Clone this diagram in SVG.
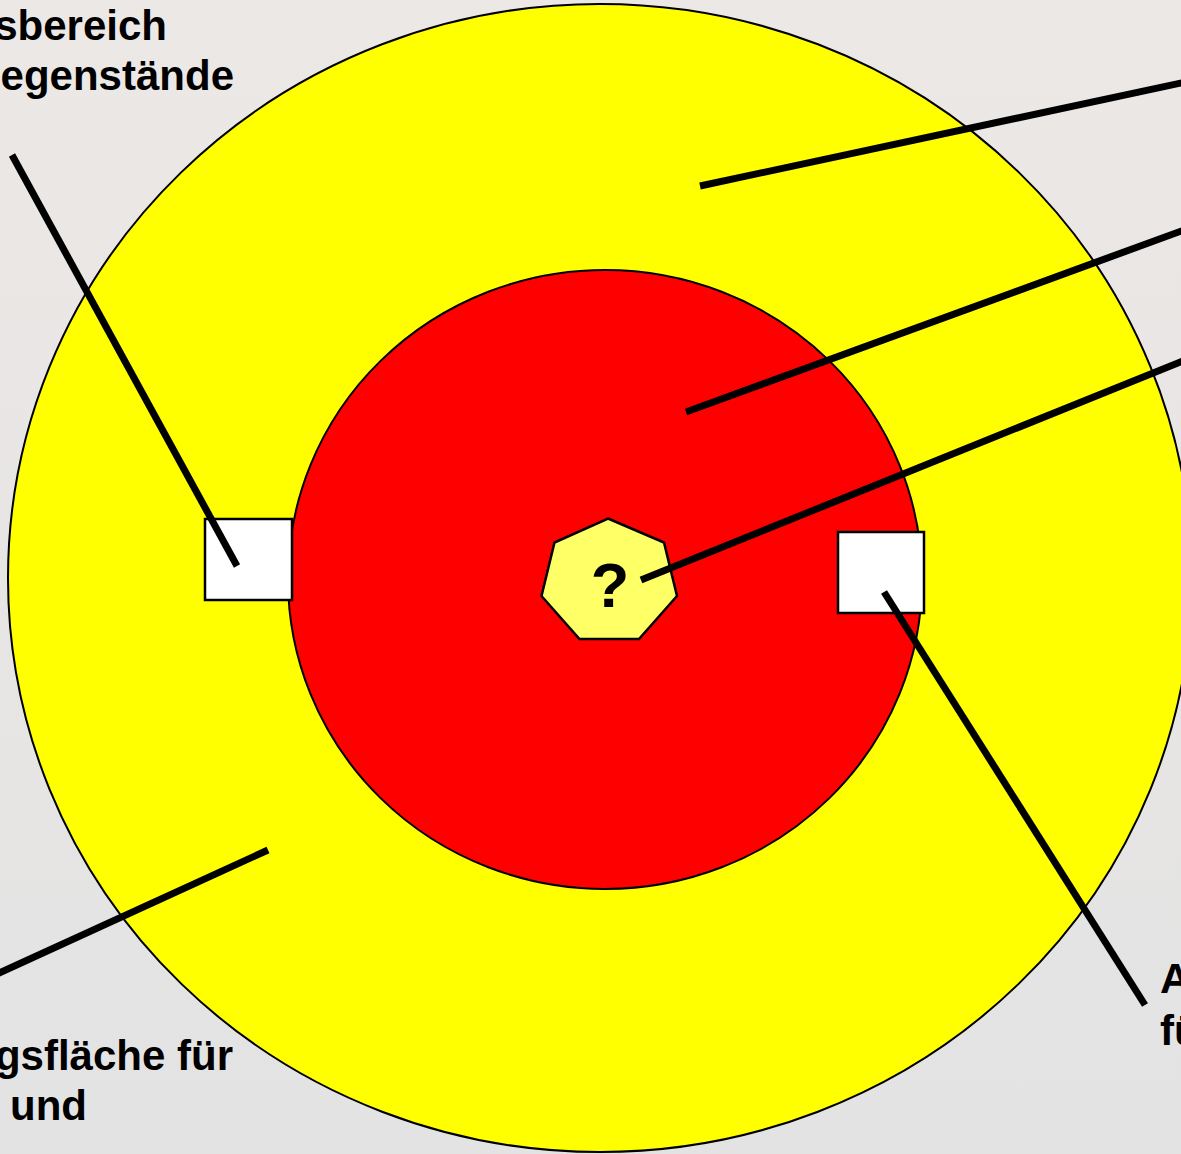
<svg xmlns="http://www.w3.org/2000/svg" width="1181" height="1154" viewBox="0 0 1181 1154">
  <defs>
    <linearGradient id="bg" x1="0" y1="0" x2="0" y2="1">
      <stop offset="0" stop-color="#ECE8E6"/>
      <stop offset="1" stop-color="#E3E3E3"/>
    </linearGradient>
    <style>
      .lbl { font-family: "Liberation Sans", Arial, sans-serif; font-weight: bold; font-size: 42px; fill: #000; }
      .conn { stroke: #000; stroke-width: 7; fill: none; }
      .box { fill: #FFFFFF; stroke: #000; stroke-width: 2.5; }
    </style>
  </defs>
  <rect x="0" y="0" width="1181" height="1154" fill="url(#bg)"/>
  <g id="outer-ring">
    <ellipse cx="600" cy="578" rx="592" ry="574" fill="#FFFF00" stroke="#000" stroke-width="2"/>
  </g>
  <g id="inner-circle">
    <ellipse cx="605" cy="579.5" rx="317" ry="309.5" fill="#FF0000" stroke="#000" stroke-width="2"/>
  </g>
  <g id="left-box">
    <rect class="box" x="205" y="519" width="87" height="81"/>
  </g>
  <g id="right-box">
    <rect class="box" x="838" y="532" width="86" height="81"/>
  </g>
  <g id="center-heptagon">
    <polygon points="608,518.5 664,542.5 677,596 639,639 579.5,639 541.5,596 554.5,542.5" fill="#FFFF66" stroke="#000" stroke-width="2.5"/>
    <text x="610" y="607" text-anchor="middle" font-family="Liberation Sans, Arial, sans-serif" font-weight="bold" font-size="63">?</text>
  </g>
  <g id="connectors">
    <line class="conn" x1="12" y1="155" x2="237" y2="566"/>
    <line class="conn" x1="700" y1="186" x2="1195" y2="80"/>
    <line class="conn" x1="686" y1="412" x2="1195" y2="226"/>
    <line class="conn" x1="641" y1="580" x2="1195" y2="356"/>
    <line class="conn" x1="884" y1="592" x2="1145" y2="1005"/>
    <line class="conn" x1="268" y1="850" x2="-5" y2="975"/>
  </g>
  <g id="labels">
    <text class="lbl" x="167" y="40" text-anchor="end">sbereich</text>
    <text class="lbl" x="234" y="90" text-anchor="end">egenstände</text>
    <text class="lbl" x="233" y="1070" text-anchor="end">gsfläche für</text>
    <text class="lbl" x="10" y="1120">und</text>
    <text class="lbl" x="1160" y="993">A</text>
    <text class="lbl" x="1160" y="1045">fü</text>
  </g>
</svg>
